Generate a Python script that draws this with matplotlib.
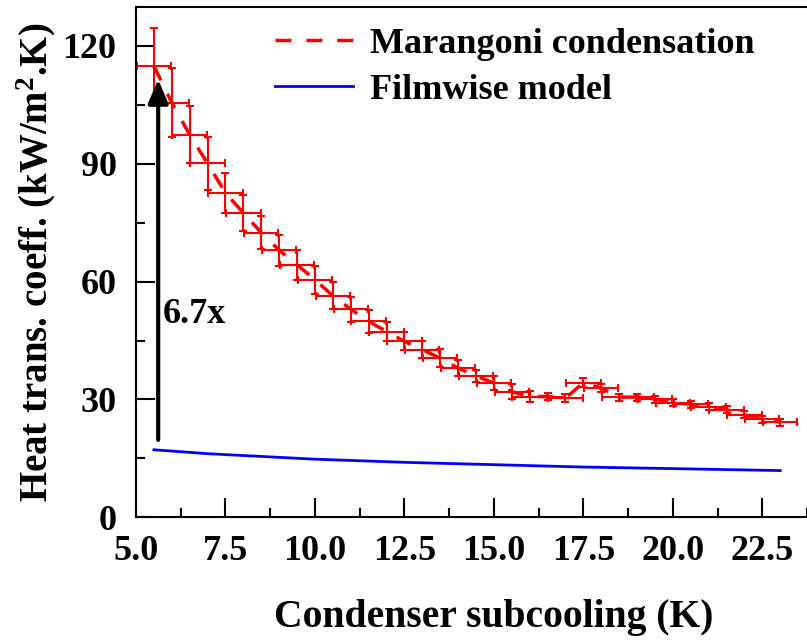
import matplotlib
matplotlib.use("Agg")
import matplotlib.pyplot as plt

# Marangoni condensation data
subcool = [5.5, 6.0, 6.5, 7.0, 7.5, 8.0, 8.5, 9.0, 9.5, 10.0, 10.5, 11.0,
           11.5, 12.0, 12.5, 13.0, 13.5, 14.0, 14.5, 15.0, 15.5, 16.0, 16.5,
           17.0, 17.5, 18.0, 18.5, 19.0, 19.5, 20.0, 20.5, 21.0, 21.5, 22.0,
           22.5, 23.0]
htc = [114.9, 105.6, 97.4, 90.1, 82.6, 77.5, 72.5, 68.0, 64.3, 60.5, 56.4,
       53.0, 49.9, 47.3, 44.8, 42.7, 40.5, 38.0, 36.0, 34.2, 32.0, 30.75,
       30.75, 30.3, 34.3, 32.9, 30.6, 30.6, 30.1, 29.2, 28.8, 28.2, 27.4,
       26.1, 25.0, 24.2]
htc_err = [9.6, 8.8, 7.2, 6.8, 5.1, 4.5, 4.2, 4.0, 3.8, 3.6, 3.4, 3.2, 3.0,
           2.5, 2.3, 2.2, 2.3, 2.1, 1.6, 1.9, 1.9, 1.3, 1.0, 1.0, 1.2, 1.0,
           0.9, 0.9, 0.9, 0.9, 0.9, 0.9, 0.9, 0.9, 0.9, 0.9]
subcool_err = 0.48

# filmwise model
film_x = [5.5, 7.0, 10.0, 12.5, 15.0, 17.5, 20.0, 23.0]
film_y = [17.2, 16.2, 14.8, 14.0, 13.4, 12.8, 12.4, 11.9]

plt.rcParams['font.family'] = 'Liberation Serif'
plt.rcParams['font.weight'] = 'bold'
plt.rcParams['mathtext.fontset'] = 'custom'
plt.rcParams['mathtext.rm'] = 'Liberation Serif:bold'
plt.rcParams['mathtext.bf'] = 'Liberation Serif:bold'
plt.rcParams['mathtext.it'] = 'Liberation Serif:bold'

fig = plt.figure(figsize=(8.07, 6.4), dpi=100)
# axes run past the right edge of the picture (the original was cropped)
ax = fig.add_axes([0.1685, 0.1917, 0.887, 0.7978])

ax.errorbar(subcool, htc, yerr=htc_err, xerr=subcool_err, fmt='none',
            ecolor='#ff0000', elinewidth=1.5, capsize=3, capthick=1.5)
ax.plot(subcool, htc, color='#ff0000', lw=2.5, ls=(0, (4.6, 4.3)),
        label='Marangoni condensation')
ax.plot(film_x, film_y, color='#0000ff', lw=2, label='Filmwise model')

ax.annotate('', xy=(5.62, 111.5), xytext=(5.62, 19.7),
            arrowprops=dict(arrowstyle='-|>,head_length=0.4,head_width=0.17',
                            lw=3, color='black', mutation_scale=36,
                            shrinkA=0, shrinkB=0))
ax.text(5.76, 49.5, '6.7x', fontsize=26, fontweight='bold',
        ha='left', va='baseline')

ax.set_xlim(5, 25)
ax.set_ylim(0, 130)
ax.set_xticks([5.0, 7.5, 10.0, 12.5, 15.0, 17.5, 20.0, 22.5])
ax.set_xticklabels(['5.0', '7.5', '10.0', '12.5', '15.0', '17.5', '20.0', '22.5'])
ax.set_xticks([6.25, 8.75, 11.25, 13.75, 16.25, 18.75, 21.25, 23.75], minor=True)
ax.set_yticks([0, 30, 60, 90, 120])
ax.set_yticks([15, 45, 75, 105], minor=True)

ax.tick_params(which='both', direction='in', width=1.5, labelsize=26)
ax.tick_params(which='major', length=13.7)
ax.tick_params(which='minor', length=6.5)
ax.tick_params(axis='x', pad=13)
ax.tick_params(axis='y', pad=14)
for s in ['left', 'bottom', 'top', 'right']:
    ax.spines[s].set_linewidth(1.5)

ax.set_xlabel('Condenser subcooling (K)', fontsize=28.5, fontweight='bold', labelpad=22)
ax.set_ylabel(r'Heat trans. coeff. (kW/m$^{2}$.K)', fontsize=28,
              fontweight='bold', labelpad=3)

ax.legend(loc='upper left', bbox_to_anchor=(0.341, 0.957),
          bbox_transform=fig.transFigure, frameon=False, fontsize=26,
          handlelength=2.15, handletextpad=0.47, labelspacing=0.35,
          borderpad=0, borderaxespad=0)

fig.savefig('out.png', dpi=100)
